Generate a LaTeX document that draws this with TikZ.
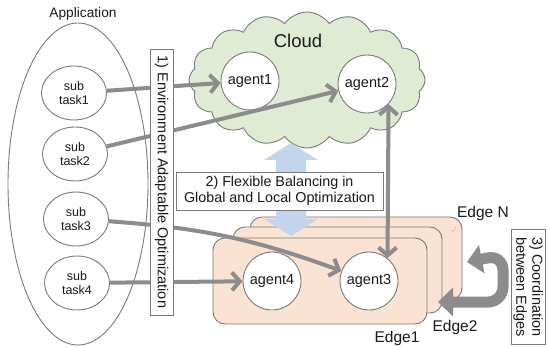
\documentclass[tikz,border=0pt]{standalone}
\usepackage{fontspec}
\setmainfont{Liberation Sans}
\usetikzlibrary{arrows.meta,shapes.symbols,shapes.geometric}
\definecolor{cloudfill}{HTML}{E0EBD3}
\definecolor{edgefill}{HTML}{FBE3D3}
\definecolor{linegray}{HTML}{7A7A7A}
\definecolor{arrowgray}{HTML}{8C8C8C}
\definecolor{bluearrow}{HTML}{C3D5EC}
\definecolor{txt}{HTML}{1A1A1A}
\begin{document}
\begin{tikzpicture}[x=1pt,y=-1pt,
  task/.style={ellipse, draw=linegray, line width=0.9pt, fill=white, minimum width=65pt, minimum height=54pt, inner sep=0pt, align=center, text=txt, font=\fontsize{12.5}{14.5}\selectfont},
  agent/.style={circle, draw=linegray, line width=0.9pt, fill=white, minimum size=58pt, inner sep=0pt, text=txt, font=\fontsize{14.5}{16}\selectfont},
  flow/.style={draw=arrowgray, line width=4pt, -{Straight Barb[length=8pt,width=18pt]}},
  edgebox/.style={draw=linegray, line width=0.9pt, fill=edgefill, rounded corners=12pt, inner sep=0pt},
  textbox/.style={draw=linegray, line width=0.9pt, fill=white, inner sep=0pt, text=txt, align=center},
  lbl/.style={text=txt, inner sep=0pt}
]
\useasboundingbox (0,0) rectangle (548,347);
\fill[white] (0,0) rectangle (548,347);

% Application
\node[ellipse, draw=linegray, line width=0.9pt, minimum width=140pt, minimum height=322pt, inner sep=0pt] (app) at (78,184) {};
\node[lbl, font=\fontsize{13.7}{16}\selectfont] (applabel) at (83,14) {Application};

% Cloud
\node[cloud, cloud puffs=16, cloud puff arc=110, aspect=1.7, draw=linegray, line width=0.9pt, fill=cloudfill, minimum width=236pt, minimum height=136pt, inner sep=0pt] (cloud) at (307,80) {};
\node[lbl, font=\fontsize{18.5}{20}\selectfont] (cloudlabel) at (298,41) {Cloud};

% Edge boxes
\node[edgebox, minimum width=212pt, minimum height=83pt] (edgeN) at (356,258.5) {};
\node[edgebox, minimum width=209pt, minimum height=86pt] (edge2) at (337.5,270) {};
\node[edgebox, minimum width=214pt, minimum height=86pt] (edge1) at (320,281) {};
\node[lbl, rotate=45, text=linegray, font=\fontsize{8}{9}\selectfont] (dots) at (454,230) {...};

% Blue balancing arrow
\fill[bluearrow] (276,160) -- (264,160) -- (291,143) -- (318,160) -- (306,160) -- (306,219) -- (318,219) -- (291,236) -- (264,219) -- (276,219) -- cycle;

% Sub tasks
\node[task] (t1) at (74,93) {sub\\task1};
\node[task] (t2) at (75,154) {sub\\task2};
\node[task] (t3) at (76,219) {sub\\task3};
\node[task] (t4) at (77,283) {sub\\task4};

% Agents
\node[agent] (a1) at (250,81) {agent1};
\node[agent] (a2) at (367,84) {agent2};
\node[agent] (a3) at (369,281) {agent3};
\node[agent] (a4) at (272,281) {agent4};

% Flows
\draw[flow] (t1) -- (a1);
\draw[flow] (t2) -- (a2);
\draw[flow] (t3) to[bend left=8] (a3);
\draw[flow] (t4) -- (a4);
\draw[draw=arrowgray, line width=4pt, {Straight Barb[length=8pt,width=18pt]}-{Straight Barb[length=8pt,width=18pt]}] (a2.-43.6) -- (a3.51.6);

% Boxes
\node[textbox, rotate=-90, minimum width=266pt, minimum height=23pt, font=\fontsize{14.5}{16}\selectfont] (box1) at (161.5,182) {1) Environment Adaptable Optimization};
\node[textbox, minimum width=207pt, minimum height=38pt, font=\fontsize{14.3}{16.5}\selectfont] (box2) at (279.5,191) {2) Flexible Balancing in\\Global and Local Optimization};
\node[textbox, rotate=-90, minimum width=115pt, minimum height=34pt, font=\fontsize{14.5}{16}\selectfont] (box3) at (528,287) {3) Coordination\\between Edges};

% Coordination arrow
\coordinate (c3top) at (467,262);
\coordinate (c3bot) at (438,302);
\draw[arrowgray, line width=11pt, rounded corners=15pt, {Triangle[length=15pt,width=28pt]}-{Triangle[length=15pt,width=28pt]}] (c3bot) -- (503,302) -- (503,255) -- (c3top);

% Edge labels
\node[lbl, font=\fontsize{15.5}{17}\selectfont] (lN) at (483,213) {Edge N};
\node[lbl, font=\fontsize{15.5}{17}\selectfont] (l2) at (455,327) {Edge2};
\node[lbl, font=\fontsize{15.5}{17}\selectfont] (l1) at (397,338) {Edge1};
\end{tikzpicture}
\end{document}
